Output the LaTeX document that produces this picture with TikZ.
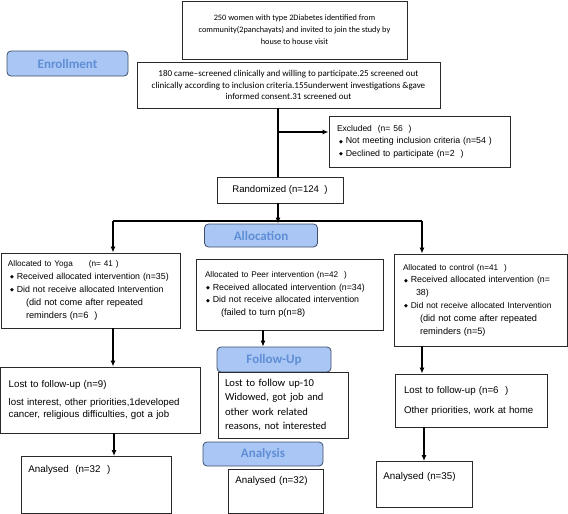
\documentclass[tikz,border=0pt]{standalone}
\usepackage{fontspec}
\setmainfont{Liberation Sans}
\newfontfamily\calfont{Carlito}
\newfontfamily\djfont{DejaVu Sans}
\usetikzlibrary{arrows.meta,calc}
\definecolor{lblfill}{HTML}{A9C6F4}
\definecolor{lbldraw}{HTML}{3F4F6B}
\definecolor{lbltext}{HTML}{5F8ED6}
\definecolor{boxdraw}{HTML}{2A2A2A}
\newcommand\dbul{{\djfont\fontsize{5}{5}\selectfont\raisebox{0.6pt}{◆}}\hspace{3pt}}
\newcommand\fsz[1]{\fontsize{#1}{\the\baselineskip}\selectfont}
\begin{document}
\begin{tikzpicture}[x=1pt,y=-1pt,
  box/.style={draw=boxdraw,line width=0.9pt,inner sep=0pt},
  lbox/.style={box,align=left},
  lbl/.style={draw=lbldraw,fill=lblfill,rounded corners=4pt,line width=0.8pt,
    text=lbltext,inner sep=0pt,font=\calfont\bfseries\fontsize{13}{14}\selectfont},
  conn/.style={line width=1.1pt,draw=black},
  arr/.style={conn,-{Latex[length=6pt,width=5pt]}}]
\useasboundingbox (0,0) rectangle (568,514);

% enrollment
\node[box,minimum width=225pt,minimum height=58pt,align=center,
  font=\calfont\fontsize{8.3}{12}\selectfont] (top) at (294.5,30)
  {250 women with type 2Diabetes identified from\\
   community(2panchayats) and invited to join the study by\\
   house to house visit};
\node[lbl,minimum width=121pt,minimum height=25pt] (enroll) at (67.5,63.5) {Enrollment};
\node[box,minimum width=303pt,minimum height=46pt,align=center,
  font=\calfont\fontsize{9}{11.5}\selectfont] (screen) at (288.5,85)
  {180 came–screened clinically and willing to participate.25 screened out\\
   clinically according to inclusion criteria.155underwent investigations \&gave\\
   informed consent.31 screened out};
\node[lbox,minimum width=181pt,minimum height=51pt,inner xsep=8pt,text width=165pt,
  font=\fontsize{8.8}{12.5}\selectfont] (excl) at (419.5,141.5)
  {\mbox{\fsz{8.5}Excluded\ \ (n= 56\ \ )}\\
   \mbox{\hspace*{2pt}\dbul Not meeting inclusion criteria (n=54 )}\\
   \mbox{\hspace*{2pt}\dbul Declined to participate (n=2\ \ )}};
\node[box,minimum width=126pt,minimum height=26pt,
  font=\fontsize{9.6}{11}\selectfont] (rand) at (280,190) {Randomized (n=124\ \ )};

% allocation
\node[lbl,minimum width=113pt,minimum height=23pt] (alloc) at (261,235.5) {Allocation};
\node[lbox,minimum width=179pt,minimum height=75pt,inner xsep=7pt,text width=165pt,
  font=\fontsize{8.8}{13}\selectfont] (yoga) at (90.5,290.5)
  {\mbox{\fsz{8.2}Allocated to Yoga\hspace{16pt}(n= 41 )}\\
   \mbox{\hspace*{2pt}\dbul Received allocated intervention (n=35)}\\
   \mbox{\hspace*{2pt}\dbul Did not receive allocated Intervention}\\
   \mbox{\fsz{9.2}\hspace*{18pt}(did not come after repeated}\\
   \mbox{\fsz{9.2}\hspace*{18pt}reminders (n=6\ \ )}};
\node[lbox,minimum width=187pt,minimum height=71pt,inner xsep=9pt,text width=169pt,
  font=\fontsize{8.8}{12.5}\selectfont] (peer) at (289.5,294.5)
  {\mbox{\fsz{8.2}Allocated to Peer intervention (n=42\ \ )}\\
   \mbox{\hspace*{1pt}\dbul Received allocated intervention (n=34)}\\
   \mbox{\hspace*{1pt}\dbul Did not receive allocated intervention}\\
   \mbox{\fsz{9.2}\hspace*{16pt}(failed to turn p(n=8)}};
\node[lbox,minimum width=173pt,minimum height=92pt,inner xsep=9pt,text width=155pt,
  font=\fontsize{8.8}{12.8}\selectfont] (ctrl) at (480.5,300)
  {\mbox{\fsz{8.2}Allocated to control (n=41\ \ )}\\
   \mbox{\hspace*{1pt}\dbul Received allocated intervention (n=}\\
   \mbox{\hspace*{13pt}38)}\\
   \mbox{\fsz{8.4}\hspace*{1pt}\dbul Did not receive allocated Intervention}\\
   \mbox{\fsz{9.2}\hspace*{17pt}(did not come after repeated}\\
   \mbox{\fsz{9.2}\hspace*{17pt}reminders (n=5)}};

% follow-up
\node[lbl,minimum width=114pt,minimum height=25pt] (fu) at (274,359.5) {Follow-Up};
\node[lbox,minimum width=199.5pt,minimum height=66pt,inner xsep=8pt,text width=183pt,
  font=\fontsize{9.7}{12}\selectfont] (losty) at (100.25,400)
  {\mbox{Lost to follow-up (n=9)}\\[6pt]
   \mbox{lost interest, other priorities,1developed}\\
   \mbox{cancer, religious difficulties, got a job}};
\node[lbox,minimum width=130pt,minimum height=66pt,inner xsep=7pt,text width=116pt,
  font=\calfont\fontsize{10.6}{14.5}\selectfont] (lostp) at (283,405)
  {\mbox{Lost to follow up-10}\\
   \mbox{Widowed, got job and}\\
   \mbox{other work related}\\
   \mbox{reasons, not interested}};
\node[lbox,minimum width=152pt,minimum height=53pt,inner xsep=9pt,text width=134pt,
  font=\fontsize{9.7}{12}\selectfont] (lostc) at (471,400.5)
  {\mbox{Lost to follow-up (n=6\ \ )}\\[8pt]
   \mbox{Other priorities, work at home}};

% analysis
\node[lbl,minimum width=120pt,minimum height=24pt] (an) at (263,454) {Analysis};
\node[lbox,anchor=north west,inner ysep=0pt,inner xsep=7pt,text width=136pt,
  text height=16pt,text depth=41pt,font=\fontsize{9.8}{11}\selectfont] (any) at (21,456)
  {Analysed\ \ (n=32\ \ )};
\node[lbox,anchor=north west,inner ysep=0pt,inner xsep=7pt,text width=81pt,
  text height=14pt,text depth=30pt,font=\fontsize{9.8}{11}\selectfont] (anp) at (228,469)
  {Analysed (n=32)};
\node[lbox,anchor=north west,inner ysep=0pt,inner xsep=7pt,text width=82pt,
  text height=18pt,text depth=28pt,font=\fontsize{9.8}{11}\selectfont] (anc) at (376,461)
  {Analysed (n=35)};

% connectors
\coordinate (tk) at (278,0);
\coordinate (ex) at (278,132);
\coordinate (bl) at (113,221);
\coordinate (br) at (422,221);
\coordinate (yl) at (114,0);
\coordinate (pc) at (263,0);
\coordinate (cl) at (424,0);
\draw[conn] (tk |- screen.south) -- (tk |- rand.north);
\draw[arr] (ex) -- (ex -| excl.west);
\draw[arr] (tk |- rand.south) -- (tk |- alloc.north);
\draw[conn] (bl) -- (br);
\draw[arr] (bl) -- (bl |- yoga.north);
\draw[arr] (br) -- (br |- ctrl.north);
\draw[arr] (bl |- yoga.south) -- (bl |- losty.north);
\draw[arr] (pc |- peer.south) -- (pc |- fu.north);
\draw[arr] (br |- ctrl.south) -- (br |- lostc.north);
\draw[arr] (yl |- losty.south) -- (yl |- any.north);
\draw[arr] (cl |- lostc.south) -- (cl |- anc.north);
\end{tikzpicture}
\end{document}
